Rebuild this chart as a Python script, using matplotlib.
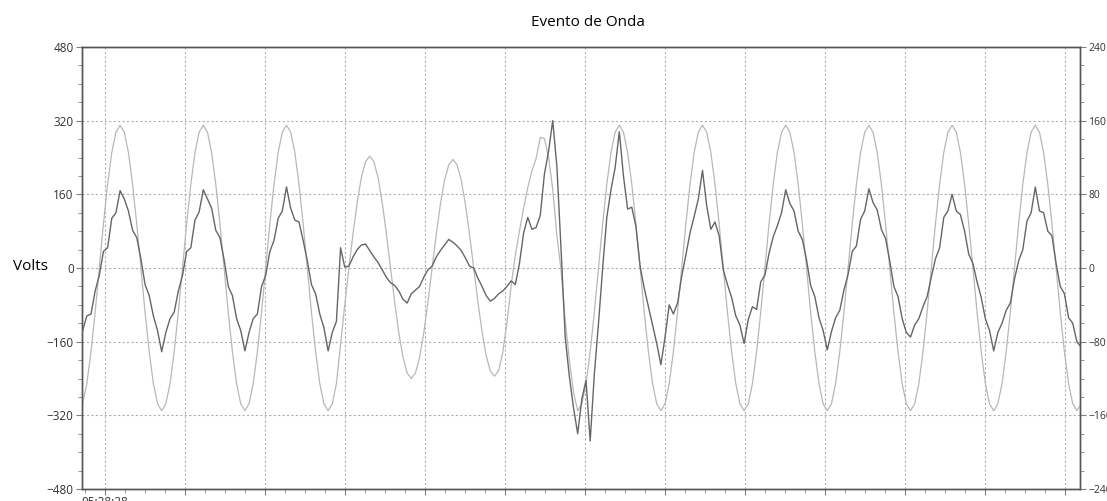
import matplotlib.pyplot as plt
from matplotlib.ticker import MultipleLocator, FixedLocator, FixedFormatter
import numpy as np

plt.rcParams['font.family'] = ['Open Sans', 'DejaVu Sans']

# sampled waveform, 20 samples per cycle, 0.832 ms apart
t_start = -5.3
dt = 0.832

# voltage (left axis)
volts = [
    -310, -295, -251, -182, -96, 0, 96, 182, 251, 295, 310, 295, 251, 182, 96, 0, -96, -182, -251, -295,
    -310, -295, -251, -182, -96, 0, 96, 182, 251, 295, 310, 295, 251, 182, 96, 0, -96, -182, -251, -295,
    -310, -295, -251, -182, -96, 0, 96, 182, 251, 295, 310, 295, 251, 182, 96, 0, -96, -182, -251, -295,
    -310, -295, -251, -165, -80, 0, 75, 143, 197, 231, 243, 231, 197, 143, 75, 0, -74, -141, -194, -228,
    -240, -228, -194, -141, -74, 0, 73, 139, 191, 224, 236, 224, 191, 139, 73, 0, -73, -138, -190, -224,
    -235, -223, -183, -118, -39, 28, 80, 130, 175, 211, 238, 284, 281, 241, 171, 70, -5, -115, -200, -270,
    -310, -295, -251, -182, -96, 0, 96, 182, 251, 295, 310, 295, 251, 182, 96, 0, -96, -182, -251, -295,
    -310, -295, -251, -182, -96, 0, 96, 182, 251, 295, 310, 295, 251, 182, 96, 0, -96, -182, -251, -295,
    -310, -295, -251, -182, -96, 0, 96, 182, 251, 295, 310, 295, 251, 182, 96, 0, -96, -182, -251, -295,
    -310, -295, -251, -182, -96, 0, 96, 182, 251, 295, 310, 295, 251, 182, 96, 0, -96, -182, -251, -295,
    -310, -295, -251, -182, -96, 0, 96, 182, 251, 295, 310, 295, 251, 182, 96, 0, -96, -182, -251, -295,
    -310, -295, -251, -182, -96, 0, 96, 182, 251, 295, 310, 295, 251, 182, 96, 0, -96, -182, -251, -295,
    -310, -295,
]

# current (right axis)
amps = [
    -82, -68, -52, -50, -25, -8, 18, 22, 54, 60, 84, 75, 62, 41, 33, 10, -18, -30, -52, -68,
    -91, -70, -55, -48, -25, -8, 18, 22, 52, 61, 85, 75, 65, 41, 33, 9, -20, -30, -55, -68,
    -90, -70, -55, -50, -20, -8, 18, 30, 54, 62, 88, 65, 52, 50, 30, 8, -18, -28, -50, -65,
    -90, -70, -58, 22, 1, 2, 12, 20, 25, 26, 19, 12, 6, -2, -10, -16, -19, -25, -34, -38,
    -28, -24, -20, -10, -2, 2, 12, 19, 25, 31, 28, 24, 19, 11, 2, 0, -11, -20, -30, -36,
    -33, -28, -25, -20, -14, -18, 5, 38, 55, 42, 44, 57, 102, 127, 160, 110, 20, -75, -118, -152,
    -180, -142, -122, -188, -115, -60, 0, 55, 85, 109, 148, 100, 64, 66, 45, 2, -22, -42, -62, -82,
    -105, -75, -40, -50, -38, -9, 14, 38, 56, 75, 106, 68, 42, 50, 35, -2, -18, -32, -52, -62,
    -82, -56, -42, -45, -15, -8, 16, 34, 46, 60, 85, 70, 62, 40, 31, 9, -19, -31, -54, -68,
    -89, -69, -54, -46, -24, -7, 18, 24, 53, 62, 86, 71, 63, 42, 32, 8, -20, -31, -55, -70,
    -75, -62, -55, -42, -31, -10, 10, 22, 55, 62, 80, 62, 58, 40, 15, 5, -15, -32, -55, -68,
    -90, -70, -60, -46, -38, -12, 8, 20, 51, 60, 88, 62, 60, 40, 35, 5, -20, -28, -54, -60,
    -80, -86,
]

t = t_start + dt * np.arange(len(volts))

fig = plt.figure(figsize=(11.07, 5.01), dpi=100)
ax = fig.add_axes([82 / 1107, 12 / 501, 998 / 1107, 442 / 501])
ax2 = ax.twinx()

ax.plot(t, volts, color='#b8b8b8', lw=0.9, zorder=3)
ax2.plot(t, amps, color='#666666', lw=1.0, zorder=3)

ax.set_xlim(-4.6, 195)
ax.set_ylim(-480, 480)
ax2.set_ylim(-240, 240)

ax.yaxis.set_major_locator(MultipleLocator(160))
ax.yaxis.set_minor_locator(MultipleLocator(40))
ax2.yaxis.set_major_locator(MultipleLocator(80))
ax2.yaxis.set_minor_locator(MultipleLocator(20))

xt = np.arange(0, 193, 16)
ax.xaxis.set_major_locator(FixedLocator(xt))
ax.xaxis.set_major_formatter(FixedFormatter(['05:28:28'] + [''] * (len(xt) - 1)))
ax.xaxis.set_minor_locator(MultipleLocator(4))

ax.grid(True, which='major', color='#b0b0b0', linestyle=(0, (2, 2)), lw=0.8)
ax.set_axisbelow(True)

for a in (ax, ax2):
    for s in a.spines.values():
        s.set_color('#555555')
        s.set_linewidth(1.0)
    a.tick_params(which='both', direction='out', colors='#808080',
                  labelcolor='#333333', labelsize=8.5)
    a.tick_params(which='major', length=4)
    a.tick_params(which='minor', length=3)
ax.tick_params(axis='x', pad=1)
ax.tick_params(axis='y', pad=2)
ax2.tick_params(axis='y', pad=2, labelsize=7.5)

fig.text(588 / 1107, 1 - 22 / 501, 'Evento de Onda', ha='center', va='center', fontsize=11)
fig.text(30 / 1107, 1 - 267 / 501, 'Volts', ha='center', va='center', fontsize=11)

fig.savefig('out.png', dpi=100)
